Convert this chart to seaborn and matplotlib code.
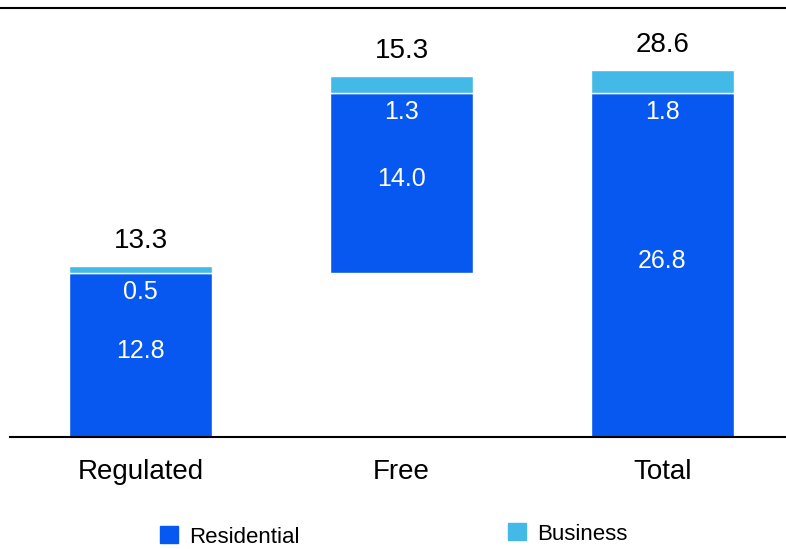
import numpy as np
import pandas as pd
import seaborn as sns
import matplotlib.pyplot as plt
from matplotlib.patches import Patch
from matplotlib.lines import Line2D

categories = ['Regulated', 'Free', 'Total']
residential = [12.8, 14.0, 26.8]
business = [0.5, 1.3, 1.8]

res_color = '#0658F0'
bus_color = '#42B9E6'

sns.set_style('white')
plt.rcParams['font.family'] = ['Liberation Sans', 'DejaVu Sans']
plt.rcParams['text.color'] = 'black'
plt.rcParams['xtick.color'] = 'black'

# waterfall: Free floats on top of Regulated residential
res_bottom = [0, residential[0], 0]
bus_bottom = [b + r for b, r in zip(res_bottom, residential)]
totals = [r + b for r, b in zip(residential, business)]

df = pd.DataFrame({'category': categories, 'residential': residential,
                   'business': business})

fig = plt.figure(figsize=(7.86, 5.49), dpi=100)
ax = fig.add_axes([10 / 786, 112 / 549, 776 / 786, 429 / 549])

sns.barplot(data=df, x='category', y='residential', order=categories,
            color=res_color, saturation=1, width=0.548, errorbar=None,
            bottom=res_bottom, edgecolor='white', linewidth=1.0, ax=ax)
sns.barplot(data=df, x='category', y='business', order=categories,
            color=bus_color, saturation=1, width=0.548, errorbar=None,
            bottom=bus_bottom, edgecolor='white', linewidth=1.0, ax=ax)

for i in range(len(categories)):
    top = bus_bottom[i] + business[i]
    ax.annotate(f'{totals[i]:.1f}', (i, top), xytext=(0, 18), textcoords='offset points',
                ha='center', va='center', fontsize=20, color='black')
    ax.annotate(f'{business[i]:.1f}', (i, bus_bottom[i]), xytext=(0, -14),
                textcoords='offset points', ha='center', va='center',
                fontsize=18, color='white')
    ax.annotate(f'{residential[i]:.1f}', (i, res_bottom[i] + residential[i] / 2),
                xytext=(0, 3), textcoords='offset points',
                ha='center', va='center', fontsize=18, color='white')

ax.set_xlim(-0.5, 2.473)
ax.set_ylim(0, 33.4)
ax.set_xlabel('')
ax.set_ylabel('')
ax.set_yticks([])
ax.tick_params(axis='x', length=0, labelsize=20, pad=16, labelcolor='black')
for s in ['left', 'right', 'top']:
    ax.spines[s].set_visible(False)
ax.spines['bottom'].set_color('black')
ax.spines['bottom'].set_linewidth(1.5)

fig.add_artist(Line2D([0, 1], [541 / 549, 541 / 549], transform=fig.transFigure,
                      color='black', lw=1.5))

fig.legend(handles=[Patch(color=res_color, label='Residential')], loc='center',
           bbox_to_anchor=(230 / 786, 1 - 537 / 549), frameon=False, fontsize=16,
           handlelength=0.8, handleheight=0.8, handletextpad=0.5, labelcolor='black')
fig.legend(handles=[Patch(color=bus_color, label='Business')], loc='center',
           bbox_to_anchor=(568 / 786, 1 - 534 / 549), frameon=False, fontsize=16,
           handlelength=0.8, handleheight=0.8, handletextpad=0.5, labelcolor='black')

fig.savefig('out.png', dpi=100)
